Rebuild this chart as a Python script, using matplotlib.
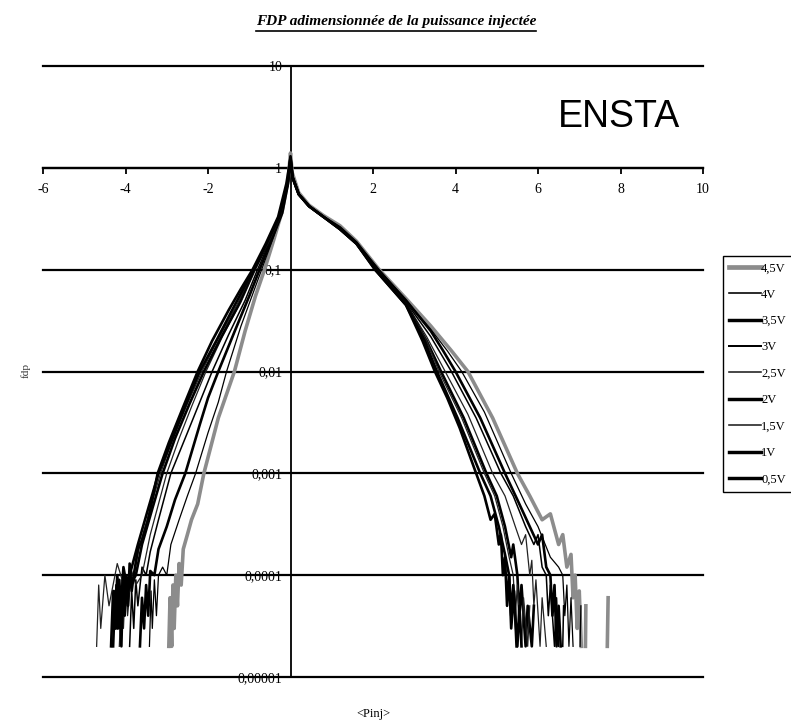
import numpy as np
import matplotlib
matplotlib.use("Agg")
import matplotlib.pyplot as plt
from matplotlib.lines import Line2D

nan = np.nan

# Données (fdp vs <Pinj>), une série par tension
x_45 = [-2.95, -2.92, -2.88, -2.85, -2.82, -2.78, -2.74, -2.7, -2.65, -2.6, -2.5, -2.4, -2.25, -2.1, -1.75,
        -1.36, -1.1, -0.85, -0.63, -0.4, -0.2, -0.06, 0.0, 0.04, 0.2, 0.45, 0.8, 1.2, 1.6, 2.15, 2.8, 3.4, 3.9,
        4.3, 4.9, 5.5, 5.8, 6.1, 6.3, 6.5, 6.6, 6.7, 6.8, 6.85, 6.9, 6.95, 7.0, 7.05, nan, 7.15, 7.16, nan,
        7.68, 7.7]
y_45 = [2e-5, 6e-5, 2e-5, 8e-5, 3e-5, 1e-4, 5e-5, 1.3e-4, 8e-5, 1.8e-4, 2.5e-4, 3.5e-4, 5e-4, 1e-3, 3.5e-3,
        1e-2, 2.5e-2, 5.5e-2, 0.1, 0.2, 0.38, 0.75, 1.4, 0.9, 0.57, 0.43, 0.34, 0.27, 0.19, 0.1, 0.052, 0.028,
        0.016, 0.01, 3.5e-3, 1e-3, 6e-4, 3.5e-4, 4e-4, 2e-4, 2.5e-4, 1.2e-4, 1.6e-4, 6e-5, 1e-4, 3e-5, 7e-5, 2e-5,
        nan, 2e-5, 5e-5, nan, 2e-5, 6e-5]

x_40 = [-3.42, -3.38, -3.35, -3.3, -3.25, -3.2, -3.1, -3.0, -2.9, -2.7, -2.5, -2.3, -2.0, -1.75, -1.55, -1.2,
        -0.9, -0.7, -0.45, -0.2, -0.06, 0.0, 0.05, 0.2, 0.45, 0.8, 1.2, 1.6, 2.15, 2.8, 3.4, 3.8, 4.15, 4.7, 5.35,
        5.7, 6.0, 6.3, 6.5, 6.6, 6.65, 6.7, 6.75, 6.8, 6.85, nan, 7.02, 7.04]
y_40 = [2e-5, 7e-5, 3e-5, 9e-5, 4e-5, 1e-4, 1.2e-4, 1e-4, 2e-4, 3.5e-4, 6e-4, 1e-3, 2.5e-3, 5e-3, 1e-2, 2.8e-2,
        6e-2, 0.1, 0.19, 0.37, 0.72, 1.3, 0.85, 0.56, 0.42, 0.33, 0.26, 0.185, 0.1, 0.05, 0.026, 0.016, 0.01,
        4e-3, 1e-3, 5e-4, 3e-4, 1.5e-4, 1.2e-4, 1e-4, 4e-5, 8e-5, 2e-5, 6e-5, 2e-5, nan, 2e-5, 5e-5]

x_35 = [-3.65, -3.6, -3.55, -3.5, -3.45, -3.4, -3.3, -3.2, -3.0, -2.8, -2.55, -2.2, -2.0, -1.75, -1.35, -1.0,
        -0.75, -0.45, -0.2, -0.06, 0.0, 0.05, 0.2, 0.45, 0.8, 1.2, 1.6, 2.12, 2.8, 3.4, 3.7, 4.0, 4.6, 5.2, 5.5,
        5.8, 6.0, 6.1, 6.2, 6.3, 6.35, 6.4, 6.45, 6.5, 6.55]
y_35 = [2e-5, 6e-5, 3e-5, 8e-5, 4e-5, 1.1e-4, 1e-4, 1.8e-4, 3e-4, 5.5e-4, 1e-3, 3e-3, 5.5e-3, 1e-2, 2.5e-2, 5.5e-2,
        0.1, 0.2, 0.36, 0.7, 1.2, 0.82, 0.55, 0.42, 0.33, 0.26, 0.185, 0.1, 0.05, 0.025, 0.016, 0.01, 3.5e-3, 1e-3,
        5.5e-4, 3e-4, 2e-4, 2.5e-4, 1.2e-4, 1e-4, 4e-5, 8e-5, 2e-5, 5e-5, 2e-5]

x_30 = [-3.9, -3.85, -3.8, -3.75, -3.7, -3.6, -3.5, -3.4, -3.2, -2.9, -2.5, -2.2, -1.9, -1.5, -1.1, -0.8, -0.5,
        -0.22, -0.07, 0.0, 0.05, 0.2, 0.45, 0.8, 1.2, 1.6, 2.1, 2.8, 3.4, 3.9, 4.5, 5.1, 5.4, 5.7, 5.9, 6.0, 6.1,
        6.2, 6.25, 6.3, 6.4, 6.45, 6.5, nan, 6.6, 6.62]
y_30 = [2e-5, 7e-5, 3e-5, 9e-5, 5e-5, 1.2e-4, 1e-4, 1.7e-4, 3.5e-4, 1e-3, 2.5e-3, 5e-3, 1e-2, 2.3e-2, 5e-2, 0.1,
        0.19, 0.35, 0.68, 1.15, 0.8, 0.55, 0.42, 0.33, 0.255, 0.18, 0.1, 0.048, 0.022, 0.01, 3.5e-3, 1e-3, 6e-4,
        3e-4, 2e-4, 2.5e-4, 1.2e-4, 1e-4, 4e-5, 8e-5, 2e-5, 6e-5, 2e-5, nan, 2e-5, 5e-5]

x_25 = [-4.15, -4.1, -4.05, -4.0, -3.95, -3.85, -3.75, -3.6, -3.4, -3.2, -3.0, -2.7, -2.4, -2.05, -1.65, -1.2,
        -0.85, -0.55, -0.25, -0.07, 0.0, 0.05, 0.2, 0.45, 0.8, 1.2, 1.6, 2.1, 2.8, 3.3, 3.75, 4.3, 4.9, 5.2, 5.45,
        5.6, 5.7, 5.8, 5.85, 5.9, 5.95, 6.05, 6.1, 6.2]
y_25 = [2e-5, 6e-5, 3e-5, 9e-5, 4e-5, 1.1e-4, 8e-5, 1e-4, 2.5e-4, 5e-4, 1e-3, 2.2e-3, 4.5e-3, 1e-2, 2.2e-2,
        4.8e-2, 0.1, 0.18, 0.33, 0.7, 1.2, 0.8, 0.55, 0.42, 0.33, 0.255, 0.18, 0.1, 0.047, 0.022, 0.01, 3.8e-3,
        1e-3, 6e-4, 3e-4, 2e-4, 2.5e-4, 1e-4, 1.4e-4, 5e-5, 9e-5, 2e-5, 6e-5, 2e-5]

x_20 = [-4.35, -4.3, -4.25, -4.2, -4.12, -4.05, -3.95, -3.75, -3.6, -3.35, -3.1, -2.8, -2.45, -2.1, -1.7, -1.25,
        -0.88, -0.55, -0.25, -0.07, 0.0, 0.05, 0.2, 0.45, 0.8, 1.2, 1.6, 2.08, 2.8, 3.3, 3.65, 4.2, 4.75, 5.0,
        5.2, 5.35, 5.4, 5.5, 5.55, 5.6, 5.7, 5.75, 5.85, 5.9]
y_20 = [2e-5, 7e-5, 3e-5, 1e-4, 4e-5, 1.2e-4, 7e-5, 1e-4, 2e-4, 4.5e-4, 1e-3, 2.2e-3, 4.8e-3, 1e-2, 2.1e-2,
        4.6e-2, 0.1, 0.18, 0.33, 0.7, 1.25, 0.8, 0.55, 0.42, 0.33, 0.25, 0.18, 0.1, 0.046, 0.02, 0.01, 3.5e-3,
        1e-3, 6e-4, 3e-4, 1.5e-4, 2e-4, 1e-4, 4e-5, 8e-5, 2e-5, 5e-5, 2e-5, 5e-5]

x_15 = [-4.7, -4.65, -4.6, -4.5, -4.4, -4.2, -4.0, -3.8, -3.65, -3.4, -3.15, -2.85, -2.5, -2.15, -1.75, -1.3,
        -0.9, -0.55, -0.25, -0.07, 0.0, 0.05, 0.2, 0.45, 0.8, 1.2, 1.6, 2.05, 2.8, 3.3, 3.6, 4.15, 4.7, 4.95,
        5.15, 5.3, 5.4, 5.45, 5.5, 5.6, 5.65, 5.75, 5.8]
y_15 = [2e-5, 8e-5, 3e-5, 1e-4, 5e-5, 1.3e-4, 7e-5, 1e-4, 2e-4, 4.5e-4, 1e-3, 2.2e-3, 4.8e-3, 1e-2, 2.1e-2,
        4.5e-2, 0.1, 0.18, 0.33, 0.7, 1.2, 0.8, 0.55, 0.42, 0.33, 0.25, 0.18, 0.1, 0.046, 0.02, 0.01, 3.5e-3,
        1e-3, 6e-4, 3e-4, 1.5e-4, 1e-4, 4e-5, 8e-5, 2e-5, 6e-5, 2e-5, 5e-5]

x_10 = [-4.3, -4.25, -4.2, -4.15, -4.1, -4.05, -4.0, -3.9, -3.7, -3.45, -3.2, -2.9, -2.55, -2.2, -1.8, -1.35,
        -0.9, -0.58, -0.27, -0.07, 0.0, 0.05, 0.2, 0.45, 0.8, 1.2, 1.6, 2.05, 2.8, 3.25, 3.55, 4.05, 4.6, 4.85,
        5.05, 5.2, 5.3, 5.35, 5.4, 5.5, 5.55, 5.6]
y_10 = [2e-5, 7e-5, 3e-5, 9e-5, 4e-5, 1.1e-4, 6e-5, 1e-4, 2e-4, 4.5e-4, 1e-3, 2e-3, 4.6e-3, 1e-2, 2e-2, 4.5e-2,
        0.1, 0.18, 0.33, 0.7, 1.3, 0.8, 0.55, 0.42, 0.33, 0.25, 0.18, 0.1, 0.045, 0.02, 0.01, 3.5e-3, 1e-3, 6e-4,
        3e-4, 1.6e-4, 1e-4, 4e-5, 8e-5, 2e-5, 5e-5, 2e-5]

x_05 = [-4.25, -4.22, -4.18, -4.15, -4.1, -4.06, -4.02, -3.98, -3.94, -3.9, -3.85, -3.8, -3.7, -3.6, -3.45, -3.22,
        -2.95, -2.6, -2.25, -1.9, -1.5, -1.2, -0.92, -0.6, -0.3, -0.1, 0.0, 0.05, 0.2, 0.45, 0.8, 1.2, 1.6, 2.05,
        2.5, 2.8, 3.2, 3.5, 3.8, 4.1, 4.5, 4.7, 4.85, 4.95, 5.05, 5.1, 5.15, 5.2, 5.25, 5.3, 5.35, 5.42, 5.48]
y_05 = [3e-5, 8e-5, 3e-5, 6e-5, 2e-5, 9e-5, 4e-5, 1e-4, 5e-5, 1.3e-4, 7e-5, 1e-4, 1.8e-4, 2.2e-4, 3.5e-4, 1e-3,
        2e-3, 4.5e-3, 1e-2, 2e-2, 4e-2, 6.5e-2, 0.1, 0.18, 0.33, 0.7, 1.25, 0.8, 0.55, 0.42, 0.33, 0.25, 0.18, 0.1,
        0.062, 0.045, 0.02, 0.01, 5.5e-3, 2.8e-3, 1e-3, 6e-4, 3.5e-4, 4e-4, 2e-4, 2.5e-4, 1e-4, 1.5e-4, 5e-5,
        1e-4, 3e-5, 7e-5, 2e-5]

labels = ["4,5V", "4V", "3,5V", "3V", "2,5V", "2V", "1,5V", "1V", "0,5V"]
colors = ["#8c8c8c", "black", "black", "black", "#222222", "black", "#222222", "black", "black"]
widths = [2.6, 0.9, 1.9, 1.1, 0.9, 1.9, 0.9, 1.9, 1.9]
series = [(x_45, y_45), (x_40, y_40), (x_35, y_35), (x_30, y_30), (x_25, y_25),
          (x_20, y_20), (x_15, y_15), (x_10, y_10), (x_05, y_05)]

y_ticks = [1e-5, 1e-4, 1e-3, 1e-2, 1e-1, 1, 10]
y_labels = ["0,00001", "0,0001", "0,001", "0,01", "0,1", "1", "10"]
x_ticks = [-6, -4, -2, 2, 4, 6, 8, 10]

serif = "Liberation Serif"

fig = plt.figure(figsize=(7.91, 7.26), dpi=100)
W, H = 791, 726
ax = fig.add_axes([43 / W, 1 - 677 / H, 660 / W, 611 / H])
ax.set_yscale("log")
ax.set_xlim(-6, 10)
ax.set_ylim(1e-5, 10)

# lignes horizontales à chaque décade
for v in y_ticks:
    ax.axhline(v, color="black", lw=1.6, clip_on=False, zorder=1)

handles = []
for (xs, ys), lab, c, w in zip(series, labels, colors, widths):
    ax.plot(xs, ys, color=c, lw=w, zorder=3)
    handles.append(Line2D([], [], color=c, lw=w * 1.3, label=lab))

for s in ["top", "right"]:
    ax.spines[s].set_visible(False)
ax.spines["left"].set_position(("data", 0))
ax.spines["bottom"].set_position(("data", 1))
ax.spines["left"].set_linewidth(1.3)
ax.spines["bottom"].set_linewidth(1.6)

ax.set_xticks(x_ticks)
ax.set_xticklabels([str(t) for t in x_ticks], fontfamily=serif, fontsize=10)
ax.tick_params(axis="x", direction="out", length=4, width=1.3, pad=7)
ax.set_yticks(y_ticks)
ax.set_yticklabels(y_labels, fontfamily=serif, fontsize=10)
ax.yaxis.set_minor_locator(matplotlib.ticker.NullLocator())
ax.tick_params(axis="y", length=0, pad=6)
ax.set_facecolor("none")

title = fig.text(396 / W, 1 - 22 / H, "FDP adimensionnée de la puissance injectée",
                 ha="center", va="center", fontfamily=serif, fontstyle="italic",
                 fontweight="bold", fontsize=11)
fig.text(26 / W, 1 - 371 / H, "fdp", rotation=90, ha="center", va="center",
         fontfamily=serif, fontsize=8, color="#333333")
fig.text(373 / W, 1 - 714 / H, "<Pinj>", ha="center", va="center",
         fontfamily=serif, fontsize=9)
fig.text(680 / W, 1 - 127 / H, "ENSTA", ha="right", va="baseline",
         fontfamily="Liberation Sans", fontsize=27)

leg = fig.legend(handles=handles, loc="upper left", bbox_to_anchor=(723 / W, 1 - 256 / H),
                 prop={"family": serif, "size": 9}, frameon=True, fancybox=False,
                 edgecolor="black", framealpha=1, handlelength=2.5, handletextpad=0.05,
                 labelspacing=1.15, borderpad=0.5, borderaxespad=0)
leg.get_frame().set_linewidth(1.0)

# soulignement du titre
fig.canvas.draw()
bb = title.get_window_extent()
fig.add_artist(Line2D([bb.x0 / W, bb.x1 / W], [(bb.y0 - 2) / H, (bb.y0 - 2) / H],
                      transform=fig.transFigure, color="black", lw=1.2))

fig.savefig("out.png", dpi=100)
